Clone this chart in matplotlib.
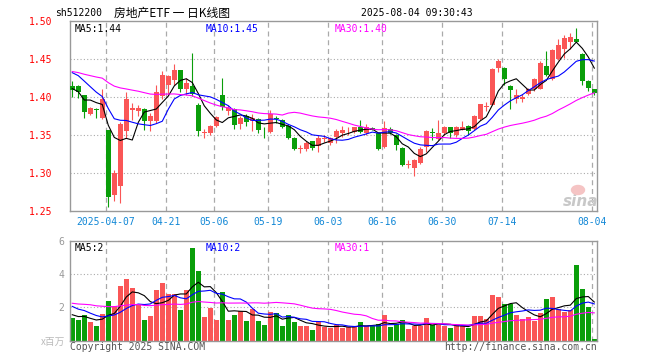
import numpy as np
import pandas as pd
import matplotlib
matplotlib.use('Agg')
import matplotlib.pyplot as plt
from matplotlib.patches import Ellipse

plt.rcParams['font.family'] = ['DejaVu Sans Mono', 'Noto Sans CJK SC']

# closes / volumes of the sessions before the visible window (only feed the MAs)
hist_close = [1.448, 1.445, 1.440, 1.437, 1.442, 1.446, 1.438, 1.435, 1.439,
              1.432, 1.428, 1.425, 1.430, 1.421, 1.418, 1.424, 1.430, 1.436, 1.434, 1.437,
              1.445, 1.452, 1.458, 1.455, 1.455,
              1.426, 1.435, 1.385, 1.400]
hist_vol = [2.6, 2.1, 1.9, 2.8, 2.4, 3.1, 2.2, 1.8, 2.5, 2.0,
            2.3, 2.7, 1.9, 2.2, 2.6, 2.4, 2.1, 2.5, 2.3, 2.4,
            2.9, 2.4, 2.7, 2.3, 2.5,
            1.8, 1.5, 1.7, 1.4]

open_ = [1.415, 1.415, 1.402, 1.378, 1.384, 1.372, 1.356, 1.271, 1.283, 1.355,
         1.383, 1.381, 1.384, 1.368, 1.369, 1.401, 1.416, 1.423, 1.435, 1.411,
         1.414, 1.390, 1.352, 1.353, 1.362, 1.402, 1.381, 1.384, 1.364, 1.375,
         1.368, 1.371, 1.357, 1.354, 1.372, 1.370, 1.362, 1.346, 1.332, 1.332,
         1.342, 1.336, 1.345, 1.339, 1.348, 1.353, 1.356, 1.354, 1.360, 1.353,
         1.359, 1.352, 1.334, 1.358, 1.350, 1.333, 1.310, 1.307, 1.313, 1.334,
         1.354, 1.345, 1.353, 1.361, 1.350, 1.357, 1.362, 1.358, 1.371, 1.387,
         1.390, 1.438, 1.438, 1.415, 1.397, 1.398, 1.404, 1.410, 1.411, 1.441,
         1.424, 1.450, 1.463, 1.473, 1.476, 1.456, 1.421, 1.410]
high = [1.421, 1.416, 1.403, 1.387, 1.385, 1.411, 1.357, 1.304, 1.367, 1.407,
        1.392, 1.390, 1.385, 1.379, 1.416, 1.434, 1.429, 1.443, 1.436, 1.425,
        1.458, 1.392, 1.358, 1.363, 1.375, 1.425, 1.390, 1.386, 1.375, 1.377,
        1.377, 1.372, 1.361, 1.383, 1.375, 1.371, 1.363, 1.347, 1.337, 1.342,
        1.342, 1.350, 1.350, 1.347, 1.358, 1.362, 1.360, 1.361, 1.370, 1.365,
        1.360, 1.353, 1.368, 1.360, 1.351, 1.334, 1.317, 1.318, 1.334, 1.357,
        1.359, 1.370, 1.362, 1.361, 1.362, 1.369, 1.363, 1.376, 1.391, 1.394,
        1.438, 1.450, 1.440, 1.416, 1.411, 1.404, 1.412, 1.425, 1.447, 1.460,
        1.463, 1.476, 1.481, 1.484, 1.491, 1.458, 1.423, 1.410]
low = [1.400, 1.399, 1.372, 1.376, 1.373, 1.371, 1.255, 1.263, 1.261, 1.346,
       1.370, 1.375, 1.357, 1.355, 1.366, 1.397, 1.403, 1.416, 1.407, 1.403,
       1.401, 1.349, 1.346, 1.350, 1.361, 1.383, 1.376, 1.358, 1.358, 1.362,
       1.355, 1.353, 1.346, 1.353, 1.366, 1.359, 1.345, 1.330, 1.326, 1.329,
       1.330, 1.327, 1.341, 1.337, 1.340, 1.348, 1.350, 1.353, 1.352, 1.350,
       1.356, 1.330, 1.333, 1.351, 1.330, 1.309, 1.307, 1.296, 1.312, 1.327,
       1.343, 1.344, 1.350, 1.346, 1.348, 1.357, 1.350, 1.357, 1.370, 1.382,
       1.389, 1.433, 1.416, 1.384, 1.392, 1.393, 1.403, 1.408, 1.410, 1.428,
       1.422, 1.449, 1.451, 1.463, 1.472, 1.416, 1.408, 1.403]
close = [1.409, 1.406, 1.380, 1.385, 1.383, 1.397, 1.269, 1.300, 1.365, 1.397,
         1.386, 1.385, 1.368, 1.375, 1.407, 1.429, 1.427, 1.435, 1.411, 1.418,
         1.404, 1.355, 1.354, 1.362, 1.374, 1.387, 1.386, 1.363, 1.372, 1.367,
         1.372, 1.356, 1.356, 1.377, 1.371, 1.360, 1.346, 1.331, 1.333, 1.339,
         1.333, 1.346, 1.346, 1.346, 1.355, 1.356, 1.357, 1.360, 1.354, 1.361,
         1.357, 1.332, 1.359, 1.353, 1.337, 1.311, 1.311, 1.317, 1.332, 1.355,
         1.353, 1.352, 1.360, 1.353, 1.361, 1.361, 1.355, 1.375, 1.391, 1.388,
         1.437, 1.448, 1.424, 1.409, 1.402, 1.400, 1.411, 1.424, 1.445, 1.429,
         1.462, 1.469, 1.478, 1.479, 1.473, 1.421, 1.412, 1.405]
volume = [1.37, 1.25, 1.54, 1.13, 0.89, 1.62, 2.41, 2.10, 3.31, 3.68,
          3.15, 2.14, 1.25, 1.50, 3.07, 3.44, 2.83, 2.83, 1.86, 3.07,
          5.58, 4.22, 1.44, 1.94, 1.25, 2.95, 1.25, 1.56, 1.80, 1.19,
          1.90, 1.19, 0.95, 1.74, 1.66, 0.89, 1.54, 1.13, 0.89, 0.89,
          0.65, 1.09, 0.83, 0.73, 0.93, 0.73, 0.83, 0.87, 1.09, 0.89,
          0.85, 1.01, 1.56, 0.79, 0.99, 1.25, 0.67, 0.85, 0.85, 1.38,
          0.93, 0.95, 0.85, 0.77, 0.95, 0.85, 0.77, 1.50, 1.50, 1.31,
          2.77, 2.61, 2.22, 2.22, 1.56, 1.31, 1.44, 1.19, 1.65, 2.53,
          2.61, 1.92, 1.74, 1.85, 4.53, 3.09, 2.05, 0.08]

tick_idx = [6, 16, 24, 33, 43, 52, 62, 72, 87]
tick_labels = ['2025-04-07', '04-21', '05-06', '05-19', '06-03',
               '06-16', '06-30', '07-14', '08-04']

# legend texts as printed on the chart
price_ma_labels = ['MA5:1.44', 'MA10:1.45', 'MA30:1.40']
vol_ma_labels = ['MA5:2', 'MA10:2', 'MA30:1']

RED = '#fa5656'
GREEN = '#0a9e0a'
GRID = '#aaaaaa'

n = len(close)
x = np.arange(n)
o = np.array(open_)
c = np.array(close)
up = c >= o
colors = np.where(up, RED, GREEN)

cs = pd.Series(hist_close + close)
vs = pd.Series(hist_vol + volume)
ma = {k: cs.rolling(k).mean().values[-n:] for k in (5, 10, 30)}
vma = {k: vs.rolling(k).mean().values[-n:] for k in (5, 10, 30)}
ma_colors = {5: 'black', 10: '#0000ff', 30: '#ff00ff'}

W, H = 660, 360
fig = plt.figure(figsize=(6.6, 3.6), dpi=100)
fig.patch.set_facecolor('white')


def box(l, t, r, b):
    return [l / W, 1 - b / H, (r - l) / W, (b - t) / H]


def ftext(px, py, s, **kw):
    fig.text(px / W, 1 - py / H, s, va='center', **kw)


ax = fig.add_axes(box(70, 21, 597, 211))
axv = fig.add_axes(box(70, 241, 597, 340.5))
xlim = (-0.38, 87.45)
vx = np.array(tick_idx) - 0.38
leg_x = [0.008, 0.257, 0.502]

# price panel
ax.set_xlim(*xlim)
ax.set_ylim(1.25, 1.50)
for yv in (1.30, 1.35, 1.40, 1.45):
    ax.axhline(yv, color=GRID, lw=0.8, ls=(0, (1, 2)), zorder=0)
for xv in vx:
    ax.axvline(xv, color=GRID, lw=0.9, ls=(0, (4, 3)), zorder=0)
ax.vlines(x, low, high, colors=colors, lw=0.8, zorder=2)
body = np.maximum(np.abs(c - o), 0.0012)
ax.bar(x, body, bottom=np.minimum(o, c), width=0.78, color=colors, lw=0, zorder=3)
for k in (5, 10, 30):
    ax.plot(x, ma[k], color=ma_colors[k], lw=0.8, zorder=4)
ax.set_yticks([1.25, 1.30, 1.35, 1.40, 1.45, 1.50])
ax.set_yticklabels(['%.2f' % v for v in ax.get_yticks()], color='red', fontsize=7)
ax.set_xticks(vx)
ax.set_xticklabels(tick_labels, color='#1187d6', fontsize=7)
ax.tick_params(length=0, axis='y', pad=13)
ax.tick_params(length=0, axis='x', pad=4)
for lx, s, k in zip(leg_x, price_ma_labels, (5, 10, 30)):
    ax.text(lx, 0.985, s, transform=ax.transAxes, fontsize=7,
            color=ma_colors[k], va='top')

# volume panel
axv.set_xlim(*xlim)
axv.set_ylim(0, 6)
for yv in (2, 4):
    axv.axhline(yv, color=GRID, lw=0.8, ls=(0, (1, 2)), zorder=0)
for xv in vx:
    axv.axvline(xv, color=GRID, lw=0.9, ls=(0, (4, 3)), zorder=0)
axv.bar(x, volume, width=0.82, color=colors, lw=0, zorder=2)
for k in (5, 10, 30):
    axv.plot(x, vma[k], color=ma_colors[k], lw=0.8, zorder=3)
axv.set_yticks([2, 4, 6])
axv.set_yticklabels(['2', '4', '6'], color='#999999', fontsize=7)
axv.set_xticks([])
axv.tick_params(length=0, axis='y', pad=4)
for lx, s, k in zip(leg_x, vol_ma_labels, (5, 10, 30)):
    axv.text(lx, 0.975, s, transform=axv.transAxes, fontsize=7,
             color=ma_colors[k], va='top')

for a in (ax, axv):
    for sp in a.spines.values():
        sp.set_color('#999999')
        sp.set_linewidth(1.0)

# header / footer
ftext(55, 13, 'sh512200', fontsize=7, color='black')
ftext(172, 13, '房地产ETF 一 日K线图', fontsize=8.5, color='black', ha='center',
      family=['Noto Sans CJK SC', 'DejaVu Sans'])
ftext(473, 13, '2025-08-04 09:30:43', fontsize=7, color='black', ha='right')
ftext(65, 342, 'x百万', fontsize=7, color='#bbbbbb', ha='right',
      family=['Noto Sans CJK SC', 'DejaVu Sans'])
ftext(70, 347, 'Copyright 2025 SINA.COM', fontsize=7, color='#555555')
ftext(597, 347, 'http://finance.sina.com.cn', fontsize=7, color='#555555', ha='right')

# sina watermark
fig.patches.append(Ellipse((578 / W, 1 - 190 / H), 13 / W, 9 / H,
                           transform=fig.transFigure, color='#f5c4c4', zorder=5))
ftext(581, 202, 'sina', fontsize=11, color='#c8c8c8', ha='center',
      fontweight='bold', style='italic', family='DejaVu Sans')

fig.savefig('out.png', dpi=100, facecolor='white')
